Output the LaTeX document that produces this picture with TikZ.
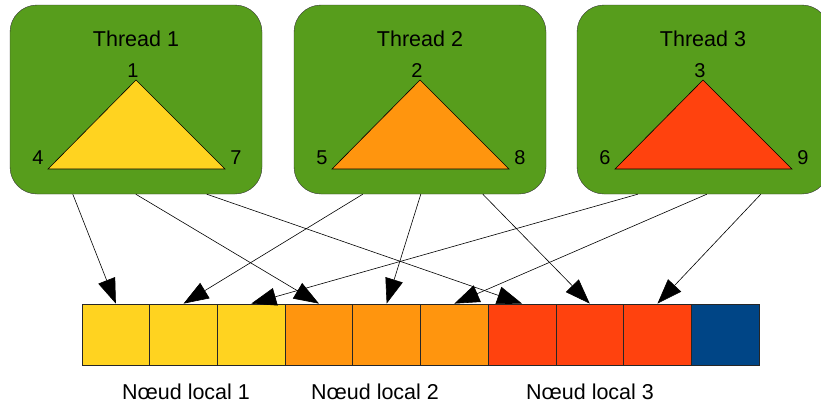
\documentclass[tikz,border=0pt]{standalone}
\usepackage{fontspec}
\setmainfont{Liberation Sans}
\usetikzlibrary{arrows.meta}
\definecolor{vert}{HTML}{579D1C}
\definecolor{jaune}{HTML}{FFD320}
\definecolor{orange}{HTML}{FF950E}
\definecolor{rouge}{HTML}{FF420E}
\definecolor{bleu}{HTML}{004586}
\tikzset{
    thread/.style={draw=black!80, fill=vert, rounded corners=27pt,
        minimum width=252pt, minimum height=189pt, inner sep=0pt},
    cell/.style={draw=black!85, minimum width=67.7pt, minimum height=61pt,
        inner sep=0pt, line width=0.8pt},
    lbl/.style={anchor=base, inner sep=0pt, font=\fontsize{20}{24}\selectfont},
    big/.style={lbl, font=\fontsize{21.5}{25}\selectfont},
    arr/.style={line width=0.6pt, -{Triangle[length=25pt,width=18pt]}}
}
\begin{document}
\begin{tikzpicture}[x=1pt,y=-1pt]
    \useasboundingbox (0,0) rectangle (821,405);

    % Threads with their triangle
    \foreach \t/\cx/\a/\b/\c/\col in {1/136/1/4/7/jaune, 2/420/2/5/8/orange, 3/703/3/6/9/rouge} {
        \node[thread] (t\t) at (\cx,99.5) {};
        \node[big] (title\t) at (\cx,46) {Thread \t};
        \draw[fill=\col, line width=0.6pt] (\cx,80) -- (\cx+89,169) -- (\cx-88,169) -- cycle;
        \node[lbl] (v\a) at (\cx-3,77) {\a};
        \node[lbl] (v\b) at (\cx-98,164) {\b};
        \node[lbl] (v\c) at (\cx+100,164) {\c};
    }

    % Local array
    \foreach \i/\col in {1/jaune,2/jaune,3/jaune,4/orange,5/orange,6/orange,7/rouge,8/rouge,9/rouge,10/bleu} {
        \node[cell, fill=\col] (c\i) at ({82+67.7*(\i-0.5)},334.5) {};
    }

    \node[big] (n1) at (186,399) {Nœud local 1};
    \node[big] (n2) at (375,399) {Nœud local 2};
    \node[big] (n3) at (590,399) {Nœud local 3};

    % Arrows vertex -> cell
    \foreach \t/\dx/\c in {1/63/1, 1/126/4, 1/197/7, 2/69/2, 2/127/5, 2/189/8, 3/61/3, 3/130/6, 3/184/9} {
        \draw[arr] ([xshift=\dx] t\t.south west) -- (c\c.north);
    }
\end{tikzpicture}
\end{document}
